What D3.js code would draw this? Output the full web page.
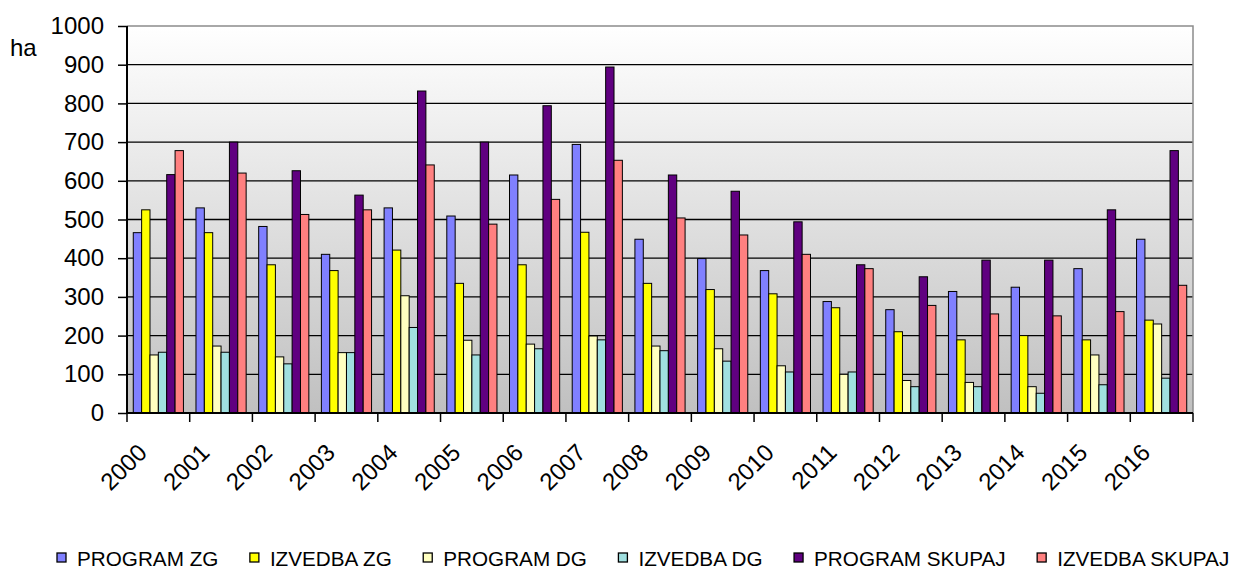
<!DOCTYPE html>
<html>
<head>
<meta charset="utf-8">
<script src="https://cdn.jsdelivr.net/npm/d3@7"></script>
<style>
  body { margin: 0; background: #fff; }
  text { font-family: "Liberation Sans", Arial, sans-serif; fill: #000; }
</style>
</head>
<body>
<div id="chart"></div>
<script>
// data (ha)
var years = ["2000","2001","2002","2003","2004","2005","2006","2007","2008",
  "2009","2010","2011","2012","2013","2014","2015","2016"];
var programZG = [466,530,482,410,530,509,615,694,449,399,368,288,267,314,325,373,449];
var izvedbaZG = [525,466,383,368,421,335,383,467,335,319,308,272,210,189,200,189,240];
var programDG = [150,173,145,156,303,188,178,199,173,166,122,100,84,79,68,150,230];
var izvedbaDG = [157,157,127,156,221,150,166,189,161,134,106,106,68,68,51,73,90];
var programSkupaj = [616,700,626,563,832,700,794,894,615,573,494,383,352,395,395,525,678];
var izvedbaSkupaj = [678,620,513,525,641,488,552,653,504,460,410,373,278,256,251,262,330];
var seriesNames = ["PROGRAM ZG","IZVEDBA ZG","PROGRAM DG","IZVEDBA DG","PROGRAM SKUPAJ","IZVEDBA SKUPAJ"];
var colors = ["#8080ff","#ffff00","#ffffc0","#a0e0e0","#600080","#ff8080"];
var yTicks = [0,100,200,300,400,500,600,700,800,900,1000];

var allSeries = [programZG, izvedbaZG, programDG, izvedbaDG, programSkupaj, izvedbaSkupaj];

var svgWidth = 1241;
var svgHeight = 569;
var margin = { top: 26, right: 48, bottom: 156, left: 127 };
var width = svgWidth - margin.left - margin.right;
var height = svgHeight - margin.top - margin.bottom;

var svg = d3.select("#chart")
  .append("svg")
  .attr("width", svgWidth)
  .attr("height", svgHeight);

// background gradient of the plot area
var grad = svg.append("defs").append("linearGradient")
  .attr("id", "bg")
  .attr("x1", 0).attr("y1", 0).attr("x2", 0).attr("y2", 1);
grad.append("stop").attr("offset", "0%").attr("stop-color", "#ffffff");
grad.append("stop").attr("offset", "100%").attr("stop-color", "#c0c0c0");

var chartGroup = svg.append("g")
  .attr("transform", `translate(${margin.left}, ${margin.top})`);

chartGroup.append("rect")
  .attr("width", width)
  .attr("height", height)
  .attr("fill", "url(#bg)");

// scales
var x0 = d3.scaleBand()
  .domain(years)
  .range([0, width])
  .padding(0);

var x1 = d3.scaleBand()
  .domain(d3.range(seriesNames.length))
  .range([x0.bandwidth() * 0.1, x0.bandwidth() * 0.9])
  .padding(0);

var yScale = d3.scaleLinear()
  .domain([0, 1000])
  .range([height, 0]);

// gridlines
chartGroup.selectAll(".grid")
  .data(yTicks.filter(d => d > 0 && d < 1000))
  .enter()
  .append("line")
  .attr("x1", 0)
  .attr("x2", width)
  .attr("y1", d => yScale(d))
  .attr("y2", d => yScale(d))
  .attr("stroke", "#000")
  .attr("stroke-width", 1.3);

// gray border top / right
chartGroup.append("path")
  .attr("d", `M0,0H${width}V${height}`)
  .attr("fill", "none")
  .attr("stroke", "#8c8c8c")
  .attr("stroke-width", 1.5);

// bars
var groups = chartGroup.selectAll(".year")
  .data(years)
  .enter()
  .append("g")
  .attr("transform", d => `translate(${x0(d)}, 0)`);

groups.selectAll("rect")
  .data((d, i) => allSeries.map((s, k) => ({ k: k, v: s[i] })))
  .enter()
  .append("rect")
  .attr("x", d => x1(d.k))
  .attr("y", d => yScale(d.v))
  .attr("width", x1.bandwidth())
  .attr("height", d => height - yScale(d.v))
  .attr("fill", d => colors[d.k])
  .attr("stroke", "#000")
  .attr("stroke-width", 1);

// y axis
var yAxis = d3.axisLeft(yScale)
  .tickValues(yTicks)
  .tickFormat(d3.format("d"))
  .tickSize(9)
  .tickPadding(14);

var yG = chartGroup.append("g").call(yAxis);
yG.select(".domain").attr("stroke-width", 2).attr("d", `M0,0V${height}`);
yG.selectAll(".tick line").attr("stroke-width", 1.5);
yG.selectAll("text")
  .style("font-size", "24px")
  .style("font-family", "'Liberation Sans', Arial, sans-serif");

// x axis with ticks at group boundaries
var xG = chartGroup.append("g")
  .attr("transform", `translate(0, ${height})`);

xG.append("line")
  .attr("x1", 0).attr("x2", width)
  .attr("stroke", "#000")
  .attr("stroke-width", 2);

xG.selectAll(".xtick")
  .data(years.concat(["end"]))
  .enter()
  .append("line")
  .attr("x1", (d, i) => i * x0.step())
  .attr("x2", (d, i) => i * x0.step())
  .attr("y1", 0)
  .attr("y2", 9)
  .attr("stroke", "#000")
  .attr("stroke-width", 1.5);

xG.selectAll(".xlabel")
  .data(years)
  .enter()
  .append("text")
  .attr("transform", d => `translate(${x0(d) + x0.bandwidth() / 2 - 10}, 41) rotate(-45)`)
  .attr("text-anchor", "end")
  .style("font-size", "24px")
  .text(d => d);

// unit label
svg.append("text")
  .attr("x", 10)
  .attr("y", 56)
  .style("font-size", "24px")
  .text("ha");

// legend
var legend = svg.append("g").attr("transform", "translate(57, 566)");
var lx = 0;
seriesNames.forEach(function(name, i) {
  legend.append("rect")
    .attr("x", lx)
    .attr("y", -13)
    .attr("width", 9)
    .attr("height", 9)
    .attr("fill", colors[i])
    .attr("stroke", "#000")
    .attr("stroke-width", 1.3);
  var t = legend.append("text")
    .attr("x", lx + 20)
    .attr("y", 0)
    .style("font-size", "20.7px")
    .text(name);
  lx += 20 + t.node().getComputedTextLength() + 31.5;
});
</script>
</body>
</html>
